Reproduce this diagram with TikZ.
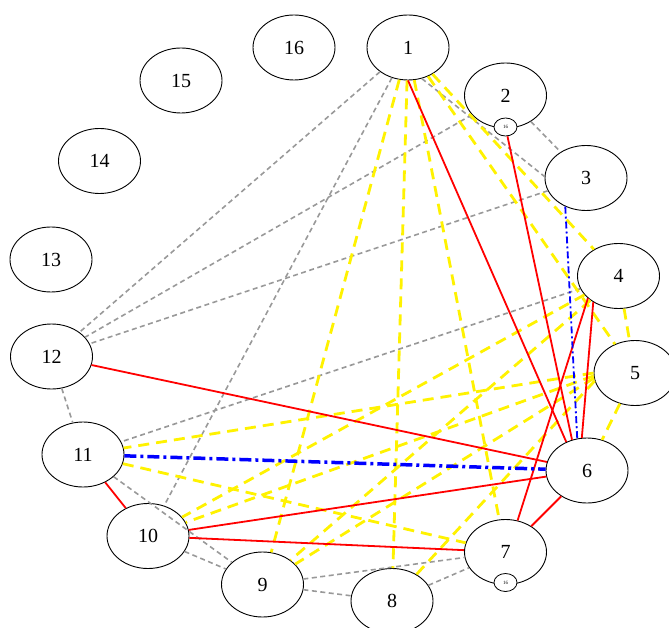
\documentclass[tikz,border=0pt]{standalone}
\usepackage{fontspec}
\setmainfont{Liberation Serif}
\usetikzlibrary{shapes.geometric}
\definecolor{edgegray}{RGB}{153,153,153}
\begin{document}
\begin{tikzpicture}[x=1pt,y=-1pt,
  v/.style={draw,ellipse,minimum width=82pt,minimum height=65pt,inner sep=0pt,font=\fontsize{20}{20}\selectfont,line width=0.9pt,fill=white},
  sm/.style={draw,ellipse,minimum width=23pt,minimum height=18pt,inner sep=0pt,font=\fontsize{5}{5}\selectfont,line width=0.8pt,fill=white},
  ge/.style={draw=edgegray, line width=1.6pt, dash pattern=on 5pt off 3.5pt},
  ye/.style={draw=yellow, line width=2.8pt, dash pattern=on 11pt off 7pt},
  re/.style={draw=red, line width=1.8pt},
  be/.style={draw=blue, line width=1.8pt, dash pattern=on 7pt off 3pt on 2pt off 3pt},
  bb/.style={draw=blue, line width=3.5pt, dash pattern=on 12pt off 4pt on 3pt off 4pt},
]
\useasboundingbox (0,0) rectangle (669,628);
\node[v] (n1) at (408,47.5) {1};
\node[v] (n2) at (505.5,95.5) {2};
\node[v] (n3) at (586,178) {3};
\node[v] (n4) at (618.5,276) {4};
\node[v] (n5) at (635,373) {5};
\node[v] (n6) at (587,470.5) {6};
\node[v] (n7) at (505.5,552) {7};
\node[v] (n8) at (392,601) {8};
\node[v] (n9) at (262.5,584.5) {9};
\node[v] (n10) at (148,536) {10};
\node[v] (n11) at (83,454.5) {11};
\node[v] (n12) at (51.5,356.5) {12};
\node[v] (n13) at (51,259.5) {13};
\node[v] (n14) at (99.5,161) {14};
\node[v] (n15) at (181,80.5) {15};
\node[v] (n16) at (294,47.5) {16};
\node[sm] (s2) at (505.5,127) {16};
\node[sm] (s7) at (505.5,582.5) {16};
% gray dashed
\draw[ge] (n1) -- (n12);
\draw[ge] (n1) -- (n10);
\draw[ge] (n1.294) -- (n3.178);
\draw[ge] (n2) -- (n12);
\draw[ge] (n2) -- (n3);
\draw[ge] (n3) -- (n12);
\draw[ge] (n4) -- (n11);
\draw[ge] (n12) -- (n11);
\draw[ge] (n11) -- (n9);
\draw[ge] (n10) -- (n9);
\draw[ge] (n9) -- (n7);
\draw[ge] (n9) -- (n8);
\draw[ge] (n8) -- (n7);
% yellow dashed
\draw[ye] (n1) -- (n4);
\draw[ye] (n1) -- (n5);
\draw[ye] (n1) -- (n7);
\draw[ye] (n1) -- (n8);
\draw[ye] (n1) -- (n9);
\draw[ye] (n4) -- (n5);
\draw[ye] (n4) -- (n9);
\draw[ye] (n4) -- (n10);
\draw[ye] (n5) -- (n6);
\draw[ye] (n5.191) -- (n8);
\draw[ye] (n5.187) -- (n9);
\draw[ye] (n5.184) -- (n10);
\draw[ye] (n5.180) -- (n11);
\draw[ye] (n11) -- (n7);
% red
\draw[re] (n1.south) -- (n6.126);
\draw[re] (s2) -- (n6.116);
\draw[re] (n12) -- (n6);
\draw[re] (n11) -- (n10);
\draw[re] (n10) -- (n6);
\draw[re] (n10) -- (n7);
\draw[re] (n4.226) -- (n6.99);
\draw[re] (n4.216) -- (n7.69);
\draw[re] (n6) -- (n7);
% blue
\draw[be] (n3.234) -- (n6.107);
\draw[bb] (n11) -- (n6);
\end{tikzpicture}
\end{document}
